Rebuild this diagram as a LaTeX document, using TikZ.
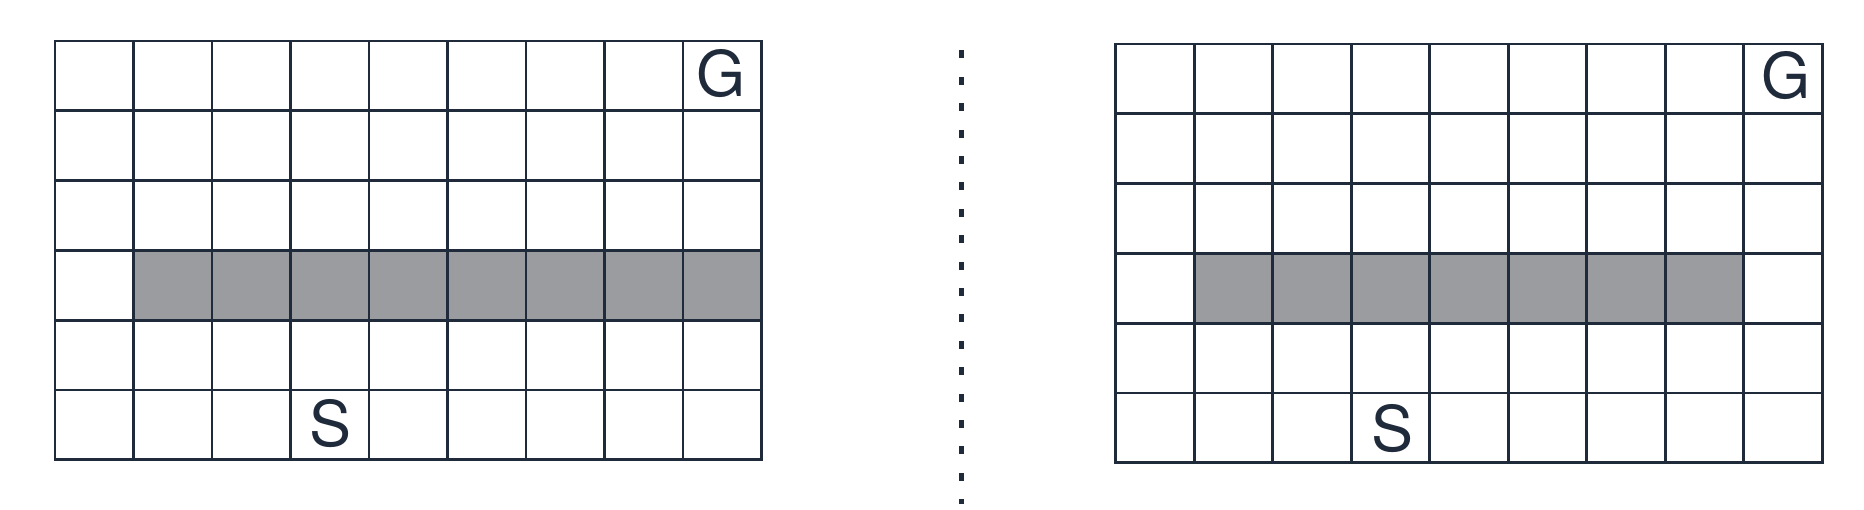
\documentclass[tikz,border=0pt]{standalone}
\usepackage{fontspec}
\setmainfont{TeX Gyre Heros}
\definecolor{ink}{HTML}{1F2A3B}
\definecolor{wall}{HTML}{9B9CA0}
\begin{document}
\begin{tikzpicture}[x=1pt,y=-1pt,
  gridline/.style={draw=ink,line width=2.7pt,line cap=rect},
  wallcell/.style={fill=wall},
  lbl/.style={text=ink,font=\fontsize{63}{70}\selectfont,inner sep=0pt,anchor=center},
  sep/.style={draw=ink,line width=5pt,dash pattern=on 8pt off 18.4pt}]
\useasboundingbox (0,0) rectangle (1864,510);
\def\cw{78.5}\def\ch{69.8}
% left grid
\fill[wallcell] (55+\cw,41+3*\ch) rectangle (55+9*\cw,41+4*\ch);
\foreach \i in {0,...,9} \draw[gridline] (55+\i*\cw,41) -- (55+\i*\cw,41+6*\ch);
\foreach \j in {0,...,6} \draw[gridline] (55,41+\j*\ch) -- (55+9*\cw,41+\j*\ch);
\node[lbl] (gl) at (721,74) {G};
\node[lbl] (sl) at (330.5,424) {S};
% separator
\coordinate (st) at (961.7,50.5);
\coordinate (sb) at (961.7,504);
\draw[sep] (st) -- (sb);
% right grid
\fill[wallcell] (1115.7+\cw,44+3*\ch) rectangle (1115.7+8*\cw,44+4*\ch);
\foreach \i in {0,...,9} \draw[gridline] (1115.7+\i*\cw,44) -- (1115.7+\i*\cw,44+6*\ch);
\foreach \j in {0,...,6} \draw[gridline] (1115.7,44+\j*\ch) -- (1115.7+9*\cw,44+\j*\ch);
\node[lbl] (gr) at (1785.5,75.3) {G};
\node[lbl] (sr) at (1392.5,428.7) {S};
\end{tikzpicture}
\end{document}
